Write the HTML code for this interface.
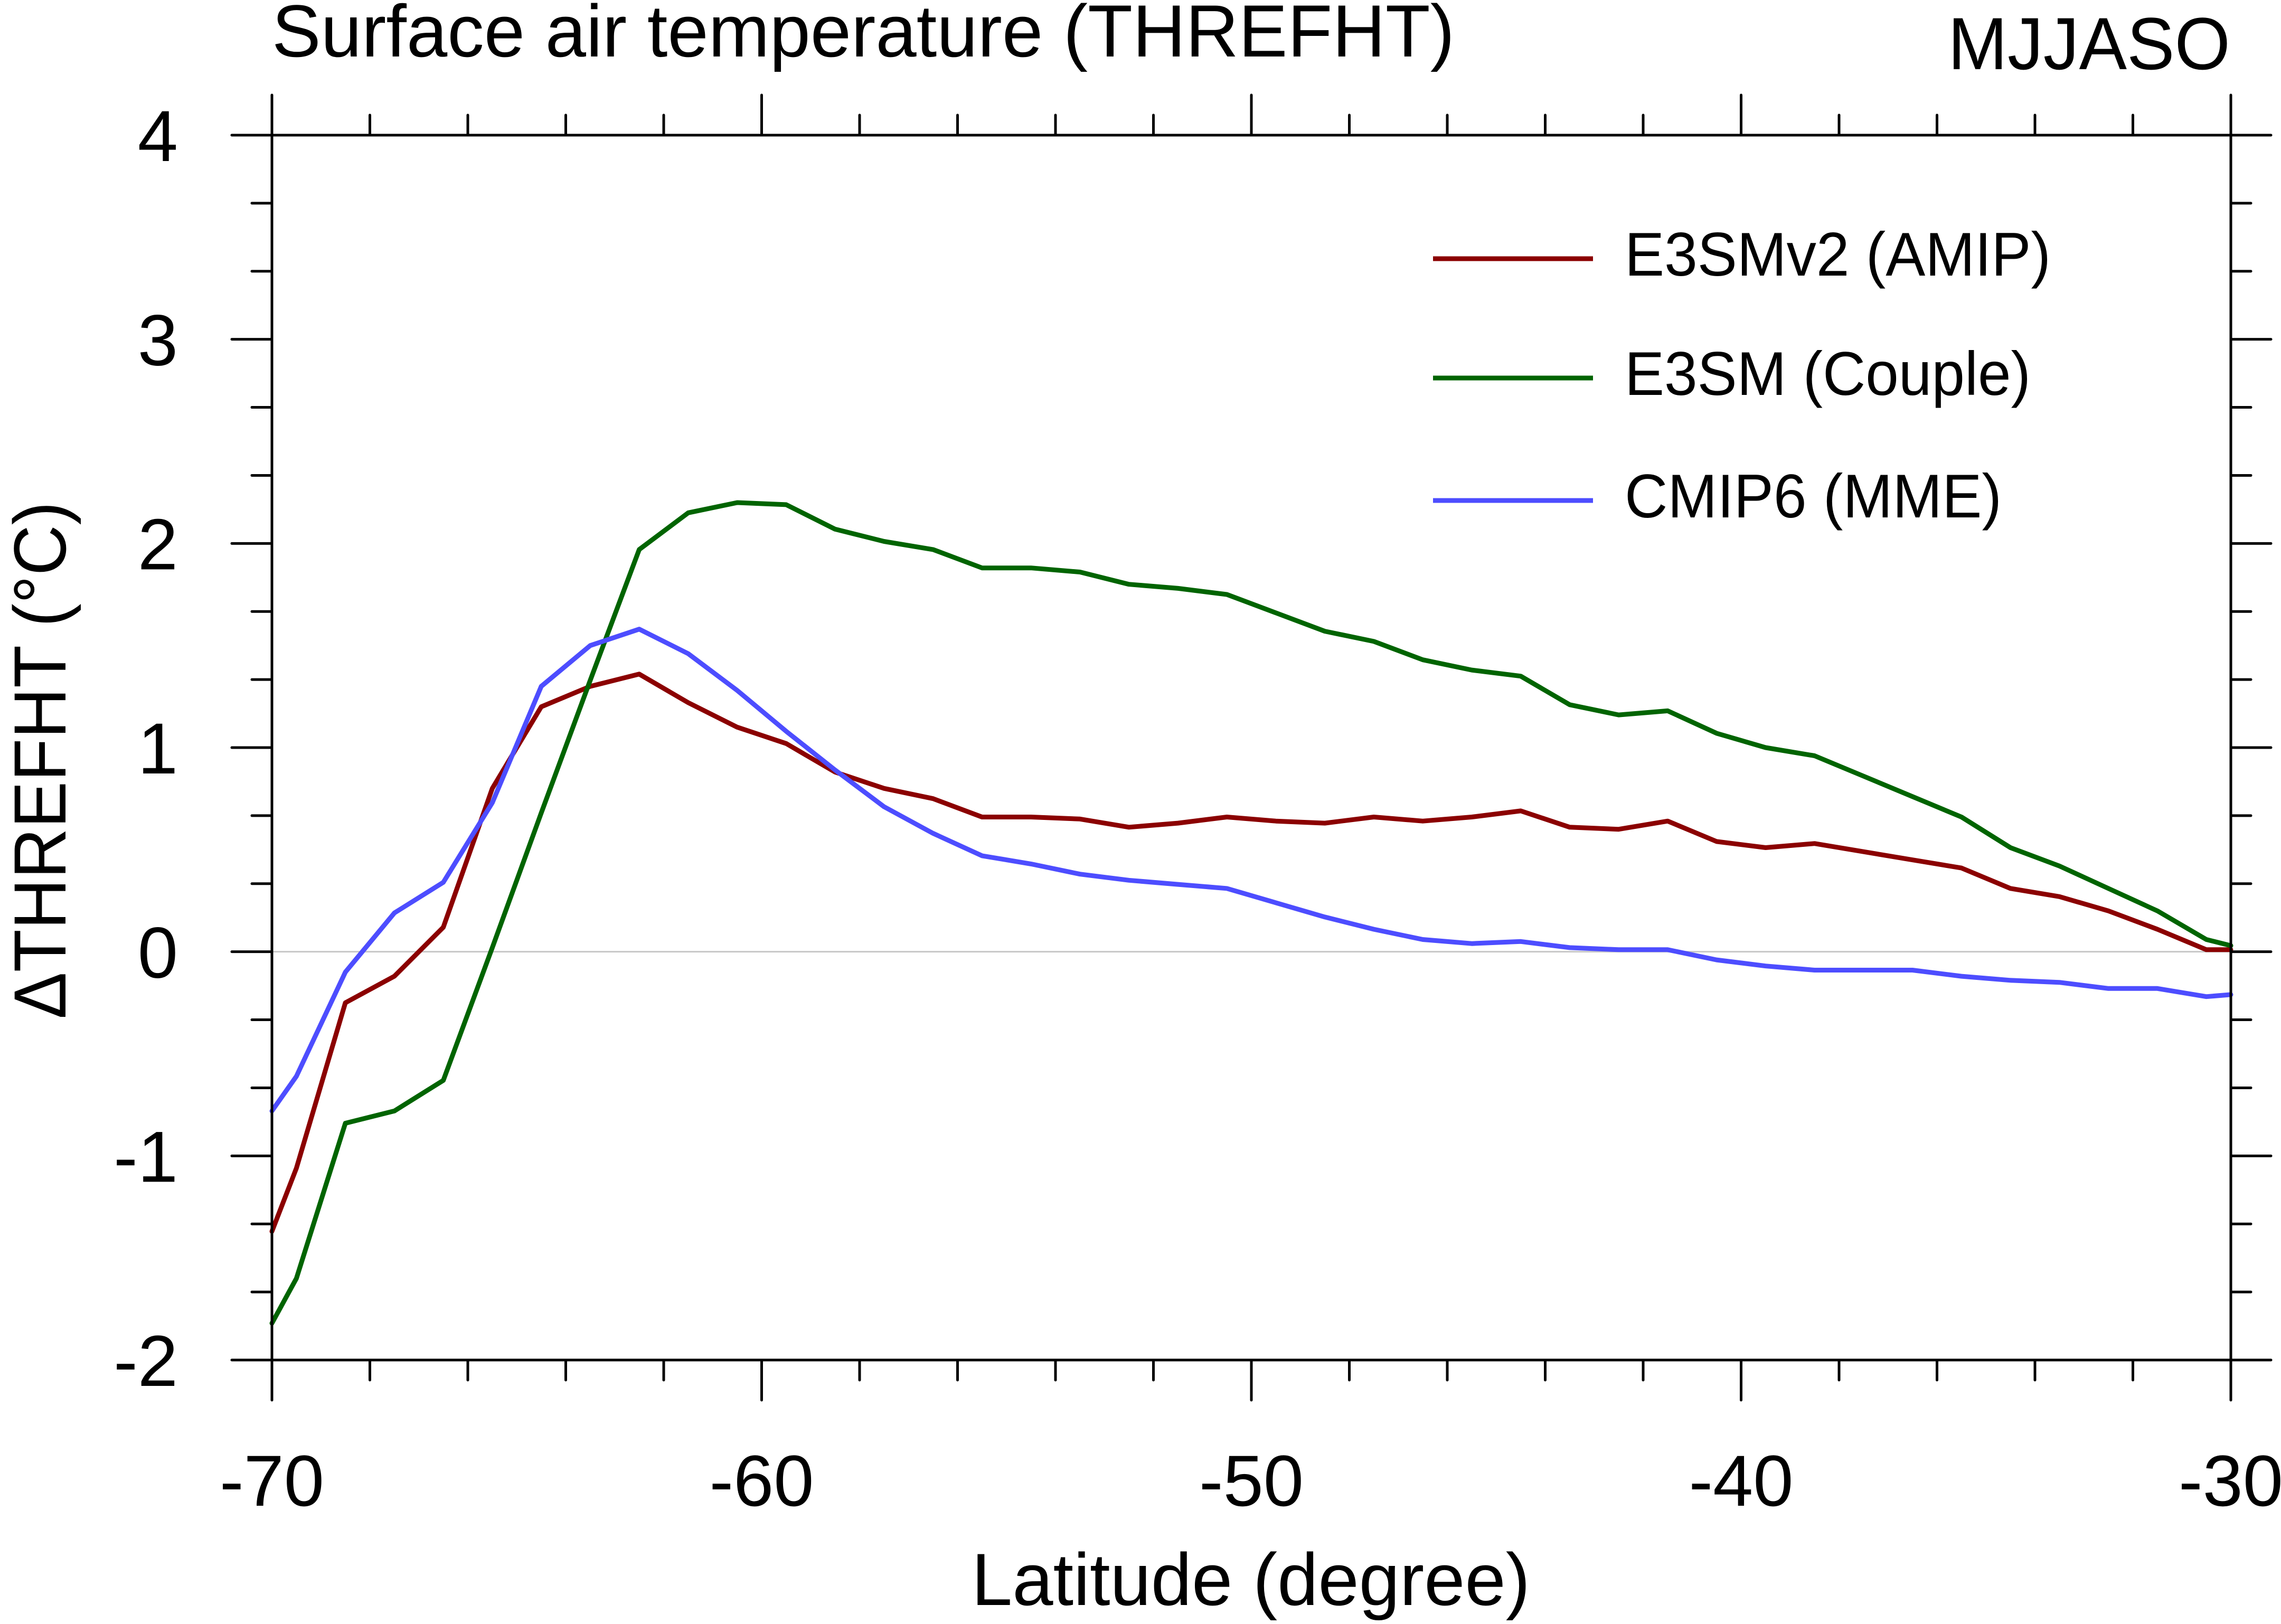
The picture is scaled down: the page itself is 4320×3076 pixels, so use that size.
<!DOCTYPE html>
<html><head><meta charset="utf-8"><style>
html,body{margin:0;padding:0;background:#fff;}
svg{display:block;font-family:"Liberation Sans",sans-serif;}
</style></head><body>
<svg id="chart" width="4320" height="3076" viewBox="0 0 4320 3076" xmlns="http://www.w3.org/2000/svg">
<rect width="4320" height="3076" fill="#fff"/>
<text x="515" y="107" font-size="140" textLength="2240" lengthAdjust="spacingAndGlyphs">Surface air temperature (THREFHT)</text>
<text x="4224" y="131" font-size="140" text-anchor="end" textLength="535" lengthAdjust="spacingAndGlyphs">MJJASO</text>
<g id="grid"></g>
<g id="series"></g>
<g id="axes"></g>
<g id="legend"></g>
<text x="2369" y="3040" font-size="140" text-anchor="middle" textLength="1058" lengthAdjust="spacingAndGlyphs">Latitude (degree)</text>
<text transform="translate(124,1440) rotate(-90)" font-size="140" text-anchor="middle" textLength="980" lengthAdjust="spacingAndGlyphs">ΔTHREFHT (°C)</text>
</svg>
<script>
const lats = [-70,-69.5,-68.5,-67.5,-66.5,-65.5,-64.5,-63.5,-62.5,-61.5,-60.5,-59.5,-58.5,-57.5,-56.5,-55.5,-54.5,-53.5,-52.5,-51.5,-50.5,-49.5,-48.5,-47.5,-46.5,-45.5,-44.5,-43.5,-42.5,-41.5,-40.5,-39.5,-38.5,-37.5,-36.5,-35.5,-34.5,-33.5,-32.5,-31.5,-30.5,-30];
const amip = [-1.37,-1.06,-0.25,-0.12,0.12,0.80,1.20,1.30,1.36,1.22,1.10,1.02,0.88,0.80,0.75,0.66,0.66,0.65,0.61,0.63,0.66,0.64,0.63,0.66,0.64,0.66,0.69,0.61,0.60,0.64,0.54,0.51,0.53,0.49,0.45,0.41,0.31,0.27,0.20,0.11,0.01,0.01];
const couple = [-1.82,-1.60,-0.84,-0.78,-0.63,0.02,0.68,1.33,1.97,2.15,2.20,2.19,2.07,2.01,1.97,1.88,1.88,1.86,1.80,1.78,1.75,1.66,1.57,1.52,1.43,1.38,1.35,1.21,1.16,1.18,1.07,1.00,0.96,0.86,0.76,0.66,0.51,0.42,0.31,0.20,0.06,0.03];
const mme = [-0.78,-0.61,-0.10,0.19,0.34,0.73,1.30,1.50,1.58,1.46,1.28,1.08,0.89,0.71,0.58,0.47,0.43,0.38,0.35,0.33,0.31,0.24,0.17,0.11,0.06,0.04,0.05,0.02,0.01,0.01,-0.04,-0.07,-0.09,-0.09,-0.09,-0.12,-0.14,-0.15,-0.18,-0.18,-0.22,-0.21];
const xTicks = [-70,-60,-50,-40,-30];
const xTickLabels = ["-70","-60","-50","-40","-30"];
const yTicks = [-2,-1,0,1,2,3,4];
const yTickLabels = ["-2","-1","0","1","2","3","4"];
const seriesNames = ["E3SMv2 (AMIP)","E3SM (Couple)","CMIP6 (MME)"];

const NS="http://www.w3.org/2000/svg";
const X0=515,X1=4225,Y0=2576,Y1=256;
const xMin=-70,xMax=-30,yMin=-2,yMax=4;
function xs(v){return X0+(v-xMin)/(xMax-xMin)*(X1-X0);}
function ys(v){return Y0-(v-yMin)/(yMax-yMin)*(Y0-Y1);}
function mk(tag,attrs,parent){const e=document.createElementNS(NS,tag);for(const k in attrs)e.setAttribute(k,attrs[k]);parent.appendChild(e);return e;}

const grid=document.getElementById('grid');
const zl=mk('line',{x1:X0,x2:X1,y1:ys(0),y2:ys(0),stroke:'#c8c8c8','stroke-width':3},grid);



const sg=document.getElementById('series');
const colors=['#8b0000','#006400','#4d4dff'];
const data=[amip,couple,mme];
const snames=['line-e3smv2-amip','line-e3sm-couple','line-cmip6-mme'];
data.forEach((arr,i)=>{
  const pts=arr.map((v,j)=>xs(lats[j]).toFixed(1)+','+ys(v).toFixed(1)).join(' ');
  const p=mk('polyline',{points:pts,fill:'none',stroke:colors[i],'stroke-width':9,'stroke-linejoin':'round','stroke-linecap':'round'},sg);
  
  
});

const ax=document.getElementById('axes');
const frame=mk('rect',{x:X0,y:Y1,width:X1-X0,height:Y0-Y1,fill:'none',stroke:'#000','stroke-width':5},ax);


const tk={stroke:'#000','stroke-width':5,'stroke-linecap':'round'};
// x ticks
for(let v=xMin;v<=xMax;v+=2){
  const major=(v%10===0);const L=major?76:38;const x=xs(v);
  mk('line',Object.assign({x1:x,x2:x,y1:Y0,y2:Y0+L},tk),ax);
  mk('line',Object.assign({x1:x,x2:x,y1:Y1,y2:Y1-L},tk),ax);
}
xTicks.forEach((v,i)=>{
  const t=mk('text',{x:xs(v),y:2852,'font-size':137,'text-anchor':'middle'},ax);
  t.textContent=xTickLabels[i];
  
  
});
// y ticks
for(let k=0;k<=18;k++){
  const v=yMin+k/3;const major=(k%3===0);const L=major?76:38;const y=ys(v);
  mk('line',Object.assign({x1:X0,x2:X0-L,y1:y,y2:y},tk),ax);
  mk('line',Object.assign({x1:X1,x2:X1+L,y1:y,y2:y},tk),ax);
}
yTicks.forEach((v,i)=>{
  const t=mk('text',{x:337,y:ys(v)+49,'font-size':137,'text-anchor':'end'},ax);
  t.textContent=yTickLabels[i];
  
  
});
// legend
const lg=document.getElementById('legend');
const ly=[490,716,948];const lw=[807,769,714];
seriesNames.forEach((n,i)=>{
  const l=mk('line',{x1:2714,x2:3017,y1:ly[i],y2:ly[i],stroke:colors[i],'stroke-width':9},lg);
  
  
  const t=mk('text',{x:3077,y:ly[i]+32,'font-size':117,textLength:lw[i],lengthAdjust:'spacingAndGlyphs'},lg);
  t.textContent=n;
  
  
});
</script>
</body></html>
